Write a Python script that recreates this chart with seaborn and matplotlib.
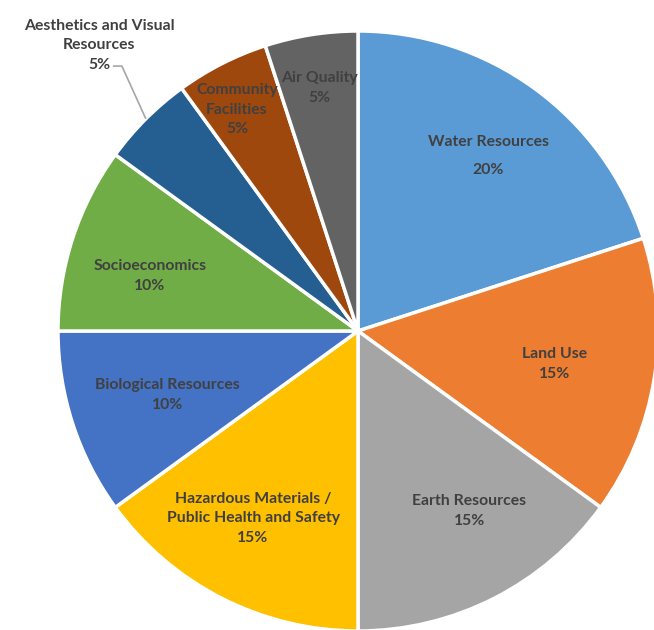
import numpy as np
import matplotlib
matplotlib.use('Agg')
import matplotlib.pyplot as plt
import seaborn as sns

# Datos del gráfico
categorias = ['Water Resources', 'Land Use', 'Earth Resources',
              'Hazardous Materials /\nPublic Health and Safety',
              'Biological Resources', 'Socioeconomics',
              'Aesthetics and Visual\nResources', 'Community\nFacilities',
              'Air Quality']
porcentajes = [20, 15, 15, 15, 10, 10, 5, 5, 5]
colores = ['#5B9BD5', '#ED7D31', '#A5A5A5', '#FFC000', '#4472C4',
           '#70AD47', '#255E91', '#9E480E', '#636363']

# posición de cada etiqueta: ángulo (grados desde arriba, horario) y radio
ang_etiqueta = [36.6, 99.5, 148.3, 209.3, 251.5, 284.8, None, 331.3, 351.0]
dist_etiqueta = [0.727, 0.665, 0.705, 0.715, 0.671, 0.717, None, 0.84, 0.82]

sns.set_theme(style='white')
plt.rcParams['font.family'] = ['Lato', 'DejaVu Sans']

fig = plt.figure(figsize=(6.54, 6.30), dpi=100)
ax = fig.add_axes([0, 0, 1, 1])

wedges, _ = ax.pie(porcentajes, colors=colores, startangle=90,
                   counterclock=False, radius=1,
                   wedgeprops=dict(edgecolor='white', linewidth=2.5))

# centro en (358, 331) px, radio 300 px
ax.set_xlim(-358 / 300, (654 - 358) / 300)
ax.set_ylim(-(630 - 331) / 300, 331 / 300)
ax.set_aspect('equal', adjustable='box')
ax.axis('off')

color_texto = '#404040'
fs = 11.3
total = sum(porcentajes)
acum = 0
for i, (cat, p) in enumerate(zip(categorias, porcentajes)):
    medio = (acum + p / 2) / total * 360
    acum += p
    texto = f'{cat}\n{p}%'
    if ang_etiqueta[i] is None:
        # etiqueta externa con línea guía
        ang = np.deg2rad(medio)
        xe, ye = np.sin(ang) * 1.0, np.cos(ang) * 1.0
        codo = (-0.787, 0.883)
        fin = (-0.817, 0.883)
        ax.plot([xe, codo[0], fin[0]], [ye, codo[1], fin[1]],
                color='#A6A6A6', lw=1.2, solid_capstyle='butt')
        ax.text(-0.863, 0.952, texto, ha='center', va='center',
                fontsize=fs, fontweight='bold', color=color_texto,
                linespacing=1.5)
        continue
    ang = np.deg2rad(ang_etiqueta[i])
    r = dist_etiqueta[i]
    ax.text(np.sin(ang) * r, np.cos(ang) * r, texto, ha='center',
            va='center', fontsize=fs, fontweight='bold',
            color=color_texto, linespacing=2.2 if i == 0 else 1.5)

fig.savefig('out.png', dpi=100)
